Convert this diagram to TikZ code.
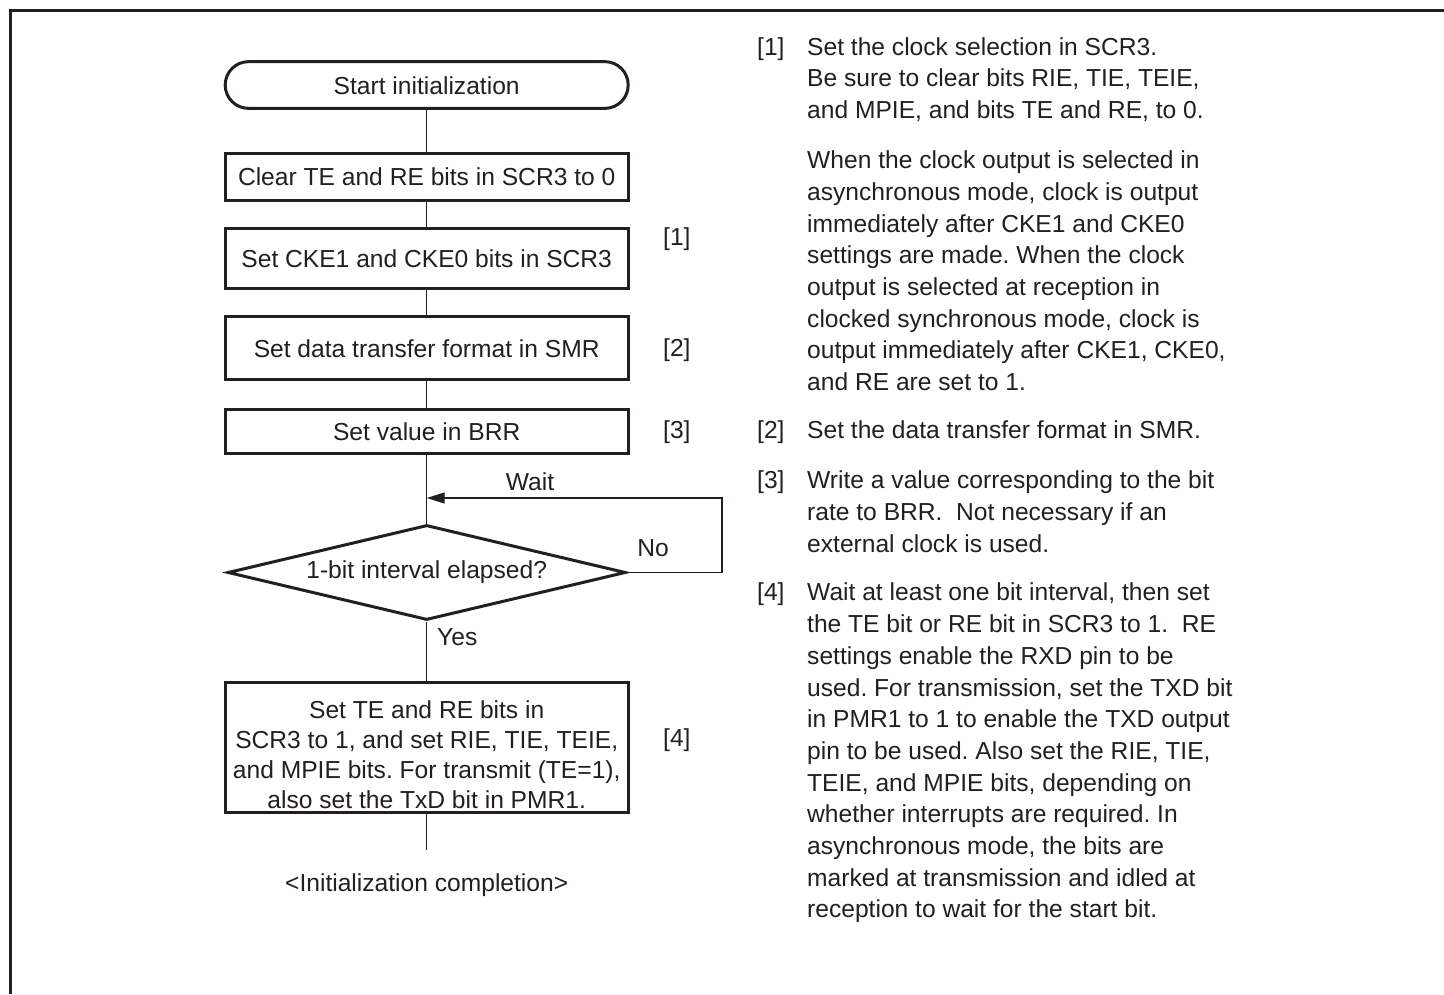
\documentclass[tikz,border=0pt]{standalone}
\usepackage{fontspec}
\setmainfont{Liberation Sans}
\usetikzlibrary{arrows.meta,shapes.geometric}
\definecolor{ink}{RGB}{35,31,32}
\begin{document}
\frenchspacing
\begin{tikzpicture}[x=1pt,y=-1pt,
  every node/.style={text=ink, font=\fontsize{24.6}{31.7}\selectfont},
  box/.style={draw=ink, line width=3pt, minimum width=403pt, inner sep=0pt, text height=18pt, text depth=0pt, align=center},
  term/.style={box, rounded corners=23.3pt},
  dec/.style={draw=ink, line width=3pt, diamond, minimum width=398pt, minimum height=95pt, inner sep=0pt, aspect=4.2},
  link/.style={draw=ink, line width=1.4pt},
  arr/.style={-{Triangle[length=18pt,width=11pt]}},
  para/.style={anchor=north west, inner sep=0pt, align=left},
  tag/.style={anchor=base west, inner sep=0pt}]
\useasboundingbox (0,0) rectangle (1444,994);
% frame
\draw[ink, line width=3pt] (10.5,994) -- (10.5,10.5) -- (1444,10.5);
% flowchart
\node[term, minimum height=46.7pt] (start) at (426.7,85) {Start initialization};
\node[box, minimum height=46.7pt] (b1) at (426.7,176.7) {Clear TE and RE bits in SCR3 to 0};
\node[box, minimum height=60pt] (b2) at (426.7,258.3) {Set CKE1 and CKE0 bits in SCR3};
\node[box, minimum height=63.3pt] (b3) at (426.7,348.3) {Set data transfer format in SMR};
\node[box, minimum height=44.3pt] (b4) at (426.7,431.2) {Set value in BRR};
\node[dec] (dia) at (426.7,572.5) {1-bit interval elapsed?};
\node[box, minimum height=130.4pt] (b5) at (426.7,747.5) {};
\node[inner sep=0pt, anchor=north, align=center, font=\fontsize{24.6}{30}\selectfont] (b5t) at (426.7,700.2)
  {Set TE and RE bits in\\SCR3 to 1, and set RIE, TIE, TEIE,\\and MPIE bits. For transmit (TE=1),\\also set the TxD bit in PMR1.};
\coordinate (end) at (426.7,850);
\coordinate (join) at (426.7,498);
\node[anchor=base] (done) at (426.7,891.7) {<Initialization completion>};
% connectors
\draw[link] (start) -- (b1);
\draw[link] (b1) -- (b2);
\draw[link] (b2) -- (b3);
\draw[link] (b3) -- (b4);
\draw[link] (b4) -- (dia);
\draw[link] (dia) -- (b5);
\draw[link] (b5) -- (end);
\draw[link, arr] (dia.east) -| (722,498) -- (join);
\node[anchor=base] (wait) at (530,490) {Wait};
\node[anchor=base] (no) at (653,556.7) {No};
\node[anchor=base west, inner sep=0pt] (yes) at (437,645.7) {Yes};
% step tags beside flowchart
\node[tag] (t1) at (663,245) {[1]};
\node[tag] (t2) at (663,356) {[2]};
\node[tag] (t3) at (663,438.5) {[3]};
\node[tag] (t4) at (663,746.7) {[4]};
% right column
\node[tag] (r1) at (757,55) {[1]};
\node[para] (p1) at (807,37.2) {Set the clock selection in SCR3.\\Be sure to clear bits RIE, TIE, TEIE,\\and MPIE, and bits TE and RE, to 0.};
\node[para] (p1b) at (807,150.7) {When the clock output is selected in\\asynchronous mode, clock is output\\immediately after CKE1 and CKE0\\settings are made. When the clock\\output is selected at reception in\\clocked synchronous mode, clock is\\output immediately after CKE1, CKE0,\\and RE are set to 1.};
\node[tag] (r2) at (757,438.5) {[2]};
\node[tag] (p2) at (807,438.5) {Set the data transfer format in SMR.};
\node[tag] (r3) at (757,488.5) {[3]};
\node[para] (p3) at (807,470.7) {Write a value corresponding to the bit\\rate to BRR.\ \ Not necessary if an\\external clock is used.};
\node[tag] (r4) at (757,600.7) {[4]};
\node[para] (p4) at (807,582.9) {Wait at least one bit interval, then set\\the TE bit or RE bit in SCR3 to 1.\ \ RE\\settings enable the RXD pin to be\\used. For transmission, set the TXD bit\\in PMR1 to 1 to enable the TXD output\\pin to be used. Also set the RIE, TIE,\\TEIE, and MPIE bits, depending on\\whether interrupts are required. In\\asynchronous mode, the bits are\\marked at transmission and idled at\\reception to wait for the start bit.};
\end{tikzpicture}
\end{document}
